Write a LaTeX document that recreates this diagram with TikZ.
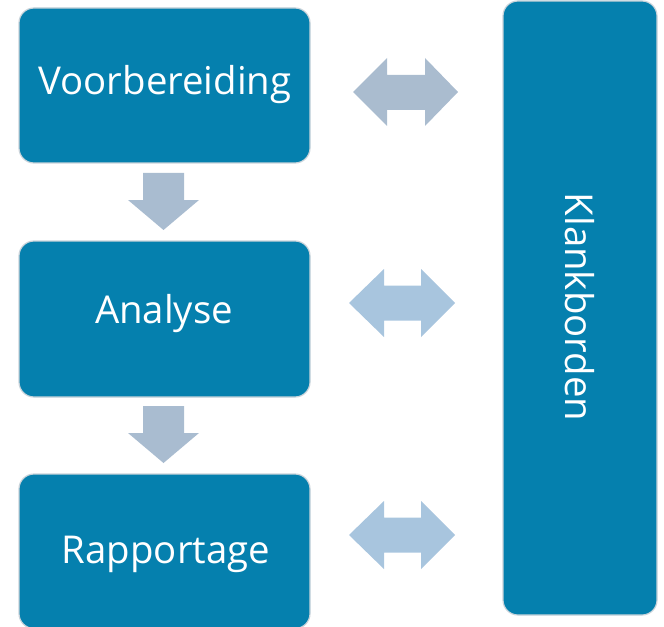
\documentclass[tikz,border=0pt]{standalone}
\usepackage{fontspec}
\setmainfont{Open Sans}
\definecolor{boxblue}{HTML}{0580AE}
\definecolor{boxedge}{HTML}{C9D3DA}
\definecolor{downarr}{HTML}{A9BCD0}
\definecolor{dblarrA}{HTML}{AABCCF}
\definecolor{dblarrB}{HTML}{A8C5DE}
\tikzset{
  stepbox/.style={fill=boxblue, draw=boxedge, line width=1.2bp, rounded corners=15bp},
  boxtext/.style={text=white, font=\fontsize{38.5}{42}\selectfont, inner sep=0pt},
}
\begin{document}
\begin{tikzpicture}[x=1bp,y=-1bp]
\useasboundingbox (0,0) rectangle (664,627);
% boxes
\path[stepbox] (19,8) rectangle (310,163);
\path[stepbox] (19,241) rectangle (310,397);
\path[stepbox] (19,474) rectangle (310,628.5);
\path[stepbox] (503,1) rectangle (657,615);
% texts
\node[boxtext, anchor=base] (v) at (165,95) {Voorbereiding};
\node[boxtext, anchor=base] (a) at (164,323) {Analyse};
\node[boxtext, anchor=base] (r) at (166,563) {Rapportage};
\node[boxtext, rotate=-90] (k) at (580,307) {Klankborden};
% down arrows
\foreach \dy in {0,233}{
  \fill[downarr] (143,173+\dy) -- (184,173+\dy) -- (184,200+\dy) -- (199,200+\dy)
     -- (163.5,230+\dy) -- (128,200+\dy) -- (143,200+\dy) -- cycle;
}
% double arrows
\fill[dblarrA] (353,92) -- (387,58) -- (387,75) -- (425,75) -- (425,58) -- (458,92)
   -- (425,126) -- (425,110) -- (387,110) -- (387,126) -- cycle;
\foreach \cy in {303,535}{
  \fill[dblarrB] (349,\cy) -- (384,\cy-34) -- (384,\cy-17.5) -- (421,\cy-17.5) -- (421,\cy-34) -- (455,\cy)
     -- (421,\cy+34) -- (421,\cy+17.5) -- (384,\cy+17.5) -- (384,\cy+34) -- cycle;
}
\end{tikzpicture}
\end{document}
